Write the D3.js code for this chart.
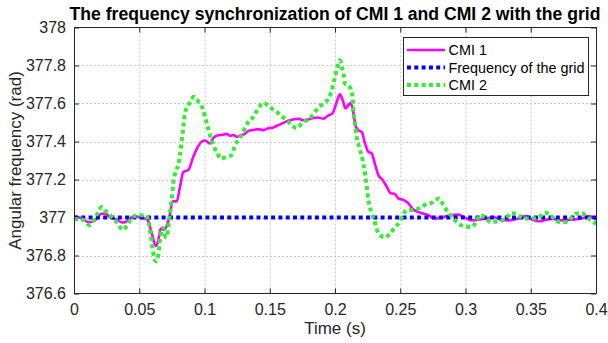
<!DOCTYPE html>
<html><head><meta charset="utf-8">
<script src="https://cdn.jsdelivr.net/npm/d3@7"></script>
<style>
html,body{margin:0;padding:0;background:#fff;}
text{font-family:"Liberation Sans",Arial,sans-serif;}
</style></head>
<body><svg id="c" width="608" height="343"></svg>
<script>
// ---- data ----
const titleText = "The frequency synchronization of CMI 1 and CMI 2 with the grid";
const xLabel = "Time (s)";
const yLabel = "Angular frequency (rad)";
const seriesNames = ["CMI 1", "Frequency of the grid", "CMI 2"];
const xTicks = [0, 0.05, 0.1, 0.15, 0.2, 0.25, 0.3, 0.35, 0.4];
const xTickLabels = ["0", "0.05", "0.1", "0.15", "0.2", "0.25", "0.3", "0.35", "0.4"];
const yTicks = [376.6, 376.8, 377, 377.2, 377.4, 377.6, 377.8, 378];
const yTickLabels = ["376.6", "376.8", "377", "377.2", "377.4", "377.6", "377.8", "378"];

const cmi1Time = [0,0.003,0.007,0.012,0.016,0.021,0.024,0.028,0.033,0.037,0.040,0.044,0.048,0.052,0.056,0.0595,0.0626,0.0646,0.0664,0.0685,0.071,0.0736,0.0756,0.0787,0.0812,0.0838,0.0876,0.0914,0.094,0.098,0.1005,0.104,0.107,0.110,0.1135,0.117,0.1195,0.122,0.1247,0.1285,0.131,0.1335,0.137,0.141,0.145,0.149,0.1527,0.1566,0.1605,0.164,0.168,0.172,0.1757,0.1795,0.1834,0.187,0.191,0.195,0.198,0.2013,0.2038,0.2059,0.2082,0.210,0.212,0.214,0.216,0.2187,0.2205,0.223,0.2255,0.228,0.2307,0.2332,0.2365,0.2396,0.2426,0.246,0.2485,0.2523,0.256,0.2596,0.2648,0.2713,0.2764,0.2816,0.288,0.2945,0.2997,0.305,0.31,0.3152,0.3218,0.327,0.3334,0.34,0.3464,0.3515,0.3567,0.3618,0.367,0.3735,0.38,0.3877,0.3955,0.4];
const cmi1Value = [377.005,377.003,376.99,376.975,376.985,377.02,377.02,377.0,376.988,376.974,376.978,377.0,377.005,376.998,376.99,376.92,376.85,376.88,376.94,376.935,376.955,377.02,377.085,377.085,377.16,377.24,377.25,377.32,377.36,377.40,377.405,377.39,377.42,377.432,377.435,377.44,377.43,377.434,377.425,377.434,377.44,377.456,377.46,377.465,377.46,377.47,377.474,377.486,377.498,377.509,377.516,377.52,377.512,377.516,377.524,377.526,377.52,377.538,377.547,377.608,377.649,377.617,377.574,377.59,377.603,377.556,377.477,377.456,377.45,377.39,377.346,377.338,377.28,377.224,377.198,377.163,377.128,377.124,377.10,377.093,377.076,377.045,377.027,377.013,376.995,377.0,377.012,377.015,376.998,376.985,376.988,376.993,377.003,376.988,376.985,376.993,377.007,376.988,376.98,376.988,376.992,376.985,376.988,376.993,377.006,376.99];

const gridTime = [0, 0.4];
const gridValue = [377, 377];

const cmi2Time = [0,0.004,0.007,0.0117,0.0153,0.0179,0.0212,0.025,0.0296,0.0327,0.0373,0.0409,0.0442,0.0498,0.0552,0.0577,0.059,0.0608,0.0628,0.0646,0.0659,0.068,0.0697,0.071,0.0723,0.0736,0.0748,0.0761,0.0782,0.080,0.0812,0.0825,0.0838,0.085,0.0876,0.0902,0.0914,0.0953,0.0986,0.1011,0.1042,0.1073,0.1098,0.1124,0.117,0.1208,0.1234,0.1267,0.131,0.1336,0.137,0.1405,0.145,0.1489,0.1515,0.1553,0.1592,0.163,0.1668,0.1707,0.1745,0.1783,0.1821,0.1847,0.188,0.191,0.1949,0.1975,0.200,0.2018,0.2038,0.2056,0.2069,0.2077,0.2102,0.2128,0.2136,0.214,0.2153,0.2166,0.2192,0.2212,0.223,0.2243,0.2255,0.2281,0.2307,0.2332,0.2383,0.2421,0.246,0.2498,0.2518,0.2552,0.2604,0.2648,0.27,0.2751,0.2795,0.2829,0.2863,0.2898,0.2933,0.2984,0.305,0.3083,0.3114,0.315,0.3195,0.3246,0.3308,0.3345,0.3397,0.344,0.350,0.3556,0.3607,0.3658,0.3699,0.3755,0.3801,0.3844,0.3895,0.3934,0.3985,0.4];
const cmi2Value = [376.99,376.992,376.988,376.96,376.99,377.02,377.055,377.028,377.0,376.976,376.935,376.96,377.0,377.012,377.012,376.96,376.9,376.81,376.77,376.8,376.887,376.945,376.905,376.895,376.955,377.025,377.09,377.18,377.25,377.275,377.33,377.40,377.477,377.547,377.59,377.62,377.635,377.61,377.574,377.512,377.434,377.372,377.338,377.31,377.32,377.33,377.38,377.416,377.47,377.503,377.526,377.565,377.603,377.59,377.574,377.556,377.533,377.512,377.486,377.47,377.495,377.512,377.533,377.556,377.582,377.60,377.626,377.67,377.74,377.79,377.827,377.783,377.74,377.705,377.696,377.66,377.617,377.565,377.495,377.425,377.355,377.302,377.233,377.163,377.093,377.023,376.97,376.918,376.895,376.915,376.95,376.98,377.01,377.04,377.04,377.05,377.07,377.08,377.10,377.067,377.03,377.005,376.975,376.955,376.95,376.98,377.014,377.0,376.975,376.98,376.99,377.023,377.018,376.995,376.995,376.998,377.026,377.008,376.98,376.975,376.99,377.02,377.023,376.998,376.975,376.965];

// ---- chart ----
const W = 608, H = 343;
const L = 74, R = 596, T = 27.5, B = 293.5;
const svg = d3.select("#c");
const x = d3.scaleLinear().domain([0, 0.4]).range([L, R]);
const y = d3.scaleLinear().domain([376.6, 378]).range([B, T]);

svg.append("defs").append("clipPath").attr("id","clip")
  .append("rect").attr("x",L).attr("y",T).attr("width",R-L).attr("height",B-T);

svg.append("rect").attr("x",L).attr("y",T).attr("width",R-L).attr("height",B-T).attr("fill","#fff");

// grid
const gridG = svg.append("g");
gridG.selectAll(".gx").data(xTicks.slice(1,-1)).join("line")
  .attr("x1",d=>x(d)+0.5).attr("x2",d=>x(d)+0.5).attr("y1",T).attr("y2",B)
  .attr("stroke","#c8c8c8").attr("stroke-width",1).attr("stroke-dasharray","2,2");
gridG.selectAll(".gy").data(yTicks.slice(1,-1)).join("line")
  .attr("y1",d=>Math.round(y(d))+0.5).attr("y2",d=>Math.round(y(d))+0.5).attr("x1",L).attr("x2",R)
  .attr("stroke","#c8c8c8").attr("stroke-width",1).attr("stroke-dasharray","2,2");

// axes (MATLAB style: ticks inward, box)
const axB = d3.axisBottom(x).tickValues(xTicks).tickFormat((d,i)=>xTickLabels[i]).tickSizeInner(-5).tickSizeOuter(0).tickPadding(10);
const axL = d3.axisLeft(y).tickValues(yTicks).tickFormat((d,i)=>yTickLabels[i]).tickSizeInner(-5).tickSizeOuter(0).tickPadding(8);
const axT = d3.axisTop(x).tickValues(xTicks).tickFormat("").tickSizeInner(-5).tickSizeOuter(0);
const axR = d3.axisRight(y).tickValues(yTicks).tickFormat("").tickSizeInner(-5).tickSizeOuter(0);
function styleAxis(g){
  g.select(".domain").remove();
  g.selectAll("line").attr("stroke","#262626");
  g.selectAll("text").attr("font-size","16px").attr("fill","#262626").attr("font-family","Liberation Sans, Arial, sans-serif");
}
svg.append("g").attr("transform",`translate(0,${B})`).call(axB).call(styleAxis);
svg.append("g").attr("transform",`translate(${L},0)`).call(axL).call(styleAxis);
svg.append("g").attr("transform",`translate(0,${T})`).call(axT).call(styleAxis);
svg.append("g").attr("transform",`translate(${R},0)`).call(axR).call(styleAxis);

// lines
const plot = svg.append("g").attr("clip-path","url(#clip)");
const lineGen = d3.line().x(d=>x(d[0])).y(d=>y(d[1])).curve(d3.curveMonotoneX);
const cmi1 = cmi1Time.map((t,i)=>[t,cmi1Value[i]]);
const grid = gridTime.map((t,i)=>[t,gridValue[i]]);
const cmi2 = cmi2Time.map((t,i)=>[t,cmi2Value[i]]);

plot.append("path").datum(cmi1).attr("d",lineGen).attr("fill","none")
  .attr("stroke","#ff00ff").attr("stroke-width",2.6).attr("stroke-linejoin","round");
plot.append("path").datum(grid).attr("d",lineGen).attr("fill","none")
  .attr("stroke","#0000ff").attr("stroke-width",4).attr("stroke-dasharray","4,3.3");
plot.append("path").datum(cmi2).attr("d",lineGen).attr("fill","none")
  .attr("stroke","#33ee33").attr("stroke-width",4).attr("stroke-dasharray","4,3.3");

// box
svg.append("rect").attr("x",L+0.5).attr("y",T).attr("width",R-L).attr("height",B-T)
  .attr("fill","none").attr("stroke","#262626").attr("stroke-width",1);

// legend
const lg = svg.append("g");
lg.append("rect").attr("x",403.5).attr("y",37.5).attr("width",185).attr("height",58)
  .attr("fill","#fff").attr("stroke","#262626").attr("stroke-width",1);
const legStyles = [
  {color:"#ff00ff", w:2.6, dash:null},
  {color:"#0000ff", w:4, dash:"4,3.3"},
  {color:"#33ee33", w:4, dash:"4,3.3"}
];
const legY = [50, 67.5, 85];
seriesNames.forEach((name,i)=>{
  const s = legStyles[i];
  const ln = lg.append("line").attr("x1",407).attr("x2",445).attr("y1",legY[i]).attr("y2",legY[i])
    .attr("stroke",s.color).attr("stroke-width",s.w);
  if(s.dash) ln.attr("stroke-dasharray",s.dash);
  lg.append("text").attr("x",448.5).attr("y",legY[i]).attr("dy","0.35em")
    .attr("font-size","14.4px").attr("fill","#000").text(name);
});

// titles
svg.append("text").attr("x",(L+R)/2).attr("y",19.5).attr("text-anchor","middle")
  .attr("font-size","17.6px").attr("font-weight","bold").attr("fill","#000").text(titleText);
svg.append("text").attr("x",(L+R)/2).attr("y",334).attr("text-anchor","middle")
  .attr("font-size","17px").attr("fill","#262626").text(xLabel);
svg.append("text").attr("transform",`translate(21,${(T+B)/2}) rotate(-90)`).attr("text-anchor","middle")
  .attr("font-size","17px").attr("fill","#262626").text(yLabel);
</script></body></html>
